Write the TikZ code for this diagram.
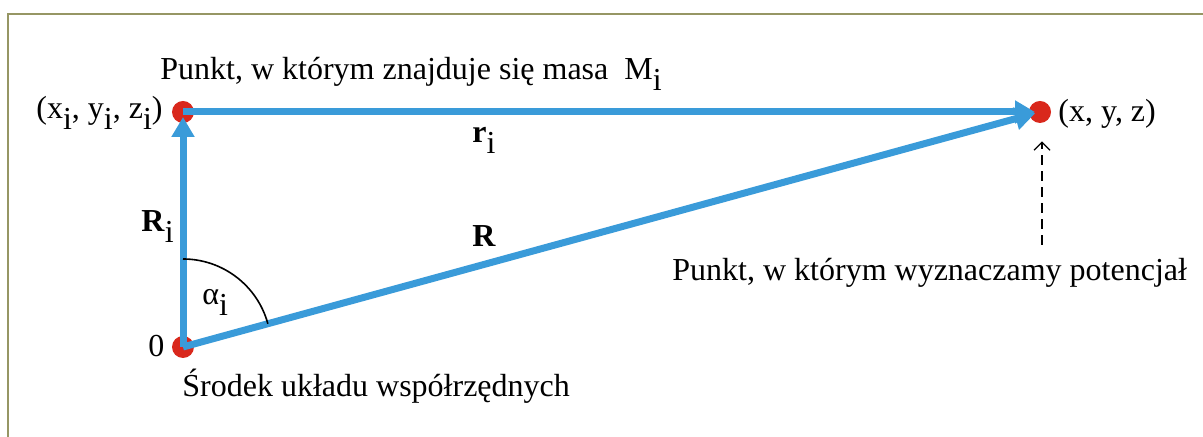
\documentclass[tikz,border=0pt]{standalone}
\usepackage{fontspec}
\setmainfont{Liberation Serif}
\usetikzlibrary{arrows.meta}

\definecolor{vecblue}{RGB}{58,155,217}
\definecolor{dotred}{RGB}{217,40,28}
\definecolor{frameolive}{RGB}{150,150,100}

\newcommand{\dn}[1]{\raisebox{-0.33em}{#1}}

\begin{document}
\begin{tikzpicture}[x=0.5pt,y=0.5pt,
    every node/.style={font=\fontsize{16}{19}\selectfont,inner sep=0pt},
    dot/.style={circle,fill=dotred,minimum size=11pt},
    vec/.style={draw=vecblue,line width=3.5pt,-{Triangle[length=10pt,width=11pt]},shorten >=2.5pt}]

    \useasboundingbox (0,0) rectangle (1203,437);

    % Frame
    \draw[frameolive,line width=1pt] (8,0) -- (8,423) -- (1203,423);

    % Points
    \node[dot] (O) at (183,90) {};
    \node[dot] (M) at (183,325) {};
    \node[dot] (P) at (1040,325) {};

    % Vectors
    \draw[vec] (O.center) -- (M.center);
    \draw[vec] (M.center) -- (P.center);
    \draw[vec] (O.center) -- (P.center);

    % Angle
    \draw[line width=0.8pt] ([yshift=44pt]O.center) arc[start angle=90,end angle=15.3,radius=44pt];

    % Pointer to the field point
    \coordinate (pin) at (1042,192);
    \draw[line width=0.6pt,dash pattern=on 5pt off 3pt,-{Straight Barb[length=4pt,width=8pt]},shorten >=9pt]
        (pin) -- (pin |- P.south);

    % Labels
    \node[anchor=base west] (massLbl) at (160,357) {Punkt, w którym znajduje się masa\ \ M\dn{i}};
    \node[anchor=base east] (mLbl) at (163,318) {(x\dn{i}, y\dn{i}, z\dn{i})};
    \node[anchor=base west] (pLbl) at (1058,315) {(x, y, z)};
    \node[anchor=base west] (rLbl) at (472,294) {\textbf{r}\dn{i}};
    \node[anchor=base west] (RLbl) at (472,190) {\textbf{R}};
    \node[anchor=base west] (RiLbl) at (141,205) {\textbf{R}\dn{i}};
    \node[anchor=base west] (aLbl) at (202,132) {α\dn{i}};
    \node[anchor=base west] (oLbl) at (148,80) {0};
    \node[anchor=base west] (sLbl) at (182,40) {Środek układu współrzędnych};
    \node[anchor=base west] (potLbl) at (672,156) {Punkt, w którym wyznaczamy potencjał};

\end{tikzpicture}
\end{document}
